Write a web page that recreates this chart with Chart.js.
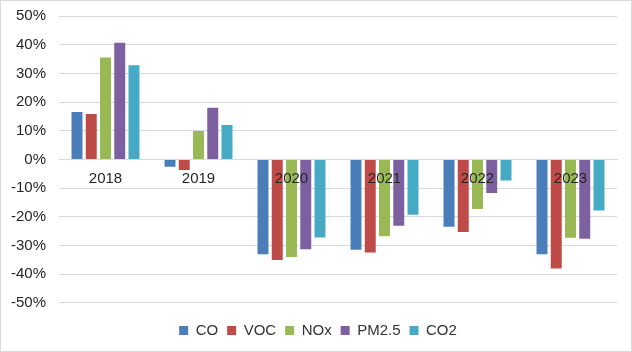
<!DOCTYPE html>
<html>
<head>
<meta charset="utf-8">
<script src="https://cdn.jsdelivr.net/npm/chart.js@4.4.0/dist/chart.umd.min.js"></script>
<style>
html,body{margin:0;padding:0;background:#fff;}
#wrap{position:relative;width:632px;height:352px;box-sizing:border-box;border:1px solid #d9d9d9;background:#fff;}
</style>
</head>
<body>
<div id="wrap"><canvas id="c"></canvas></div>
<script>
const categories = ["2018","2019","2020","2021","2022","2023"];
const seriesNames = ["CO","VOC","NOx","PM2.5","CO2"];
const CO    = [16.5, -2.6, -33.1, -31.5, -23.5, -33.1];
const VOC   = [15.8, -3.7, -35.1, -32.5, -25.3, -38.0];
const NOx   = [35.5,  9.9, -34.0, -26.8, -17.3, -27.3];
const PM25  = [40.7, 18.0, -31.3, -23.1, -11.7, -27.7];
const CO2   = [32.8, 12.0, -27.2, -19.3,  -7.4, -17.8];
const yTicks = [-50,-40,-30,-20,-10,0,10,20,30,40,50];
const colors = ["#4a7ebb","#be4b48","#98b954","#7d60a0","#46aac5"];
const values = [CO, VOC, NOx, PM25, CO2];

new Chart(document.getElementById('c'), {
  type: 'bar',
  data: {
    labels: categories,
    datasets: seriesNames.map((n,i)=>({
      label: n,
      data: values[i],
      backgroundColor: colors[i],
      borderWidth: 0,
      categoryPercentage: 0.766,
      barPercentage: 0.77
    }))
  },
  options: {
    responsive: true,
    maintainAspectRatio: false,
    animation: false,
    devicePixelRatio: 1,
    layout: { padding: { left: 4, right: 0, top: 15, bottom: 3 } },
    plugins: {
      legend: {
        position: 'bottom',
        title: { display: true, text: ' ', font: { size: 1 }, padding: { top: 0, bottom: 10 } },
        labels: {
          boxWidth: 9, boxHeight: 9, padding: 9,
          color: '#333333',
          font: { family: 'Liberation Sans, Arial, sans-serif', size: 15 }
        }
      },
      tooltip: { enabled: false }
    },
    scales: {
      x: {
        position: { y: 0 },
        afterFit: (axis) => { axis.height = 0; },
        grid: { display: false, drawTicks: false },
        border: { display: true, color: '#d9d9d9', width: 1 },
        ticks: {
          z: 1,
          color: '#262626',
          padding: 10,
          maxRotation: 0,
          font: { family: 'Liberation Sans, Arial, sans-serif', size: 15 }
        }
      },
      y: {
        min: -50, max: 50,
        afterBuildTicks: (axis) => { axis.ticks = yTicks.map(v => ({ value: v })); },
        afterFit: (axis) => { axis.width = 54; axis.paddingTop = 0; axis.paddingBottom = 0; },
        grid: { color: '#d9d9d9', lineWidth: 1, drawTicks: false },
        border: { display: false },
        ticks: {
          padding: 13,
          color: '#262626',
          font: { family: 'Liberation Sans, Arial, sans-serif', size: 15 },
          callback: (v) => v + '%'
        }
      },
      yRight: {
        position: 'right',
        min: -50, max: 50,
        afterFit: (axis) => { axis.width = 14; axis.paddingTop = 0; axis.paddingBottom = 0; },
        grid: { display: false, drawTicks: false },
        border: { display: false },
        ticks: { display: false }
      }
    }
  }
});
</script>
</body>
</html>
